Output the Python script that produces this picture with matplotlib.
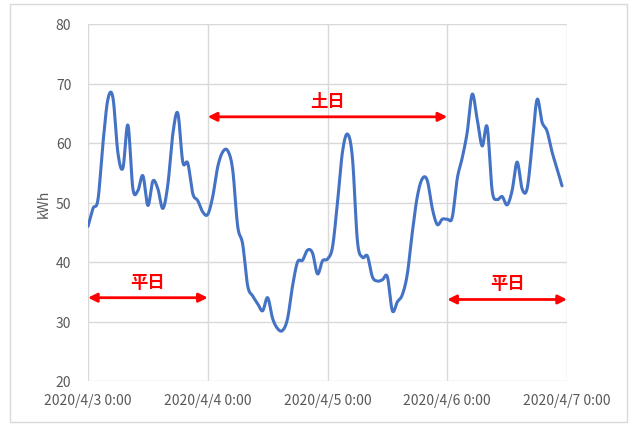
import numpy as np
import matplotlib
matplotlib.use("Agg")
import matplotlib.pyplot as plt
from matplotlib.patches import Rectangle

plt.rcParams['font.family'] = ['Noto Sans CJK JP', 'DejaVu Sans']

# Hourly electricity use, 2020/4/3 0:00 - 2020/4/6 23:00
hours = list(range(96))
kwh = [
    46.0, 49.0, 50.5, 60.0, 67.4, 67.6, 58.3, 55.8, 63.0, 52.3, 52.0, 54.5,
    49.5, 53.6, 52.3, 49.0, 53.0, 61.5, 65.0, 56.8, 56.6, 51.5, 50.3, 48.4,
    48.0, 51.0, 56.0, 58.5, 58.7, 55.5, 46.0, 43.0, 36.0, 34.3, 33.0, 31.8,
    34.0, 30.5, 28.8, 28.5, 30.5, 36.0, 40.0, 40.3, 42.0, 41.5, 38.0, 40.2,
    40.5, 42.5, 50.0, 58.5, 61.5, 57.5, 43.5, 40.8, 41.0, 37.5, 36.8, 37.0,
    37.5, 31.8, 33.3, 34.5, 38.0, 45.0, 51.0, 54.0, 53.7, 49.0, 46.3, 47.2,
    47.2, 47.5, 54.0, 57.5, 61.8, 68.2, 64.0, 59.5, 62.7, 52.0, 50.5, 51.0,
    49.6, 52.0, 56.8, 52.3, 52.3, 59.5, 67.3, 63.5, 62.0, 58.5, 55.7, 52.8,
]
tick_pos = [0, 24, 48, 72, 96]
tick_labels = ["2020/4/3 0:00", "2020/4/4 0:00", "2020/4/5 0:00",
               "2020/4/6 0:00", "2020/4/7 0:00"]
y_ticks = [20, 30, 40, 50, 60, 70, 80]

# Period annotations: (start hour, end hour, arrow level, label)
periods = [
    (0, 24, 34.0, "平日"),
    (24, 72, 64.4, "土日"),
    (72, 96, 33.7, "平日"),
]


def smooth_curve(x, y, n=16):
    """Bezier smoothing through every point (Catmull-Rom style)."""
    x = np.asarray(x, float)
    y = np.asarray(y, float)
    px = np.concatenate([[x[0]], x, [x[-1]]])
    py = np.concatenate([[y[0]], y, [y[-1]]])
    xs, ys = [], []
    t = np.linspace(0, 1, n, endpoint=False)
    for i in range(1, len(px) - 2):
        p0x, p1x, p2x, p3x = px[i - 1], px[i], px[i + 1], px[i + 2]
        p0y, p1y, p2y, p3y = py[i - 1], py[i], py[i + 1], py[i + 2]
        c1x = p1x + (p2x - p0x) / 6
        c1y = p1y + (p2y - p0y) / 6
        c2x = p2x - (p3x - p1x) / 6
        c2y = p2y - (p3y - p1y) / 6
        b0 = (1 - t) ** 3
        b1 = 3 * (1 - t) ** 2 * t
        b2 = 3 * (1 - t) * t ** 2
        b3 = t ** 3
        xs.append(b0 * p1x + b1 * c1x + b2 * c2x + b3 * p2x)
        ys.append(b0 * p1y + b1 * c1y + b2 * c2y + b3 * p2y)
    xs.append([x[-1]])
    ys.append([y[-1]])
    return np.concatenate(xs), np.concatenate(ys)


fig = plt.figure(figsize=(6.32, 4.27), dpi=100)
fig.patches.append(Rectangle((10 / 632, 4 / 427), 617 / 632, 418 / 427,
                             transform=fig.transFigure, fill=False,
                             edgecolor="#d9d9d9", linewidth=1.0))
ax = fig.add_axes([88 / 632, 1 - 382 / 427, 479 / 632, 357 / 427])

sx, sy = smooth_curve(hours, kwh)
ax.plot(sx, sy, color="#4472C4", linewidth=2.2, solid_capstyle="round", zorder=3)

ax.set_xlim(0, 96)
ax.set_ylim(20, 80)
ax.set_xticks(tick_pos)
ax.set_xticklabels(tick_labels)
ax.set_yticks(y_ticks)
ax.grid(True, color="#d9d9d9", linewidth=1.0)
ax.set_axisbelow(True)
for s in ax.spines.values():
    s.set_visible(False)
ax.tick_params(length=0, labelsize=10, colors="#595959", pad=9)
ax.tick_params(axis="y", pad=12)
ax.set_ylabel("kWh", fontsize=10, color="#595959")
ax.yaxis.set_label_coords(-0.078, 0.5)

for start, end, level, label in periods:
    ax.annotate("", xy=(end, level), xytext=(start, level),
                arrowprops=dict(arrowstyle="<|-|>", color="#FF0000", lw=2,
                                mutation_scale=13, shrinkA=0, shrinkB=0),
                zorder=4)
    ax.text((start + end) / 2, level + 1.2, label, color="#FF0000",
            fontsize=12.5, fontweight="bold", ha="center", va="bottom")

fig.savefig("out.png", dpi=100)
